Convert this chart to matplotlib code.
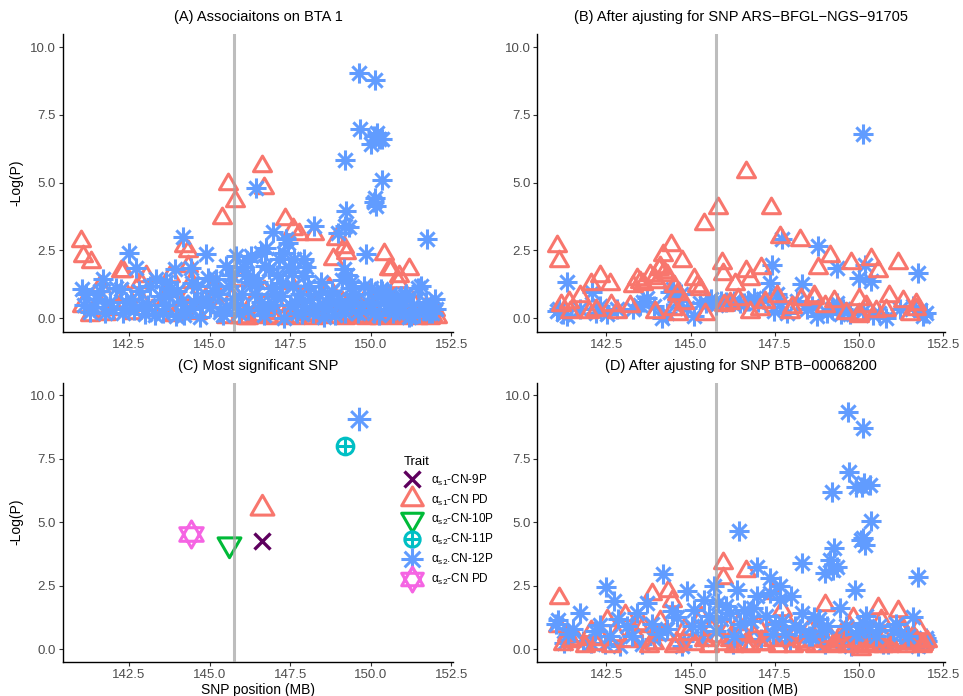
import numpy as np
import matplotlib
matplotlib.use('Agg')
import matplotlib.pyplot as plt
from matplotlib.path import Path
from matplotlib.lines import Line2D
from matplotlib.legend_handler import HandlerTuple

plt.rcParams['font.family'] = ['Liberation Sans', 'DejaVu Sans']
plt.rcParams['mathtext.fontset'] = 'custom'
plt.rcParams['mathtext.rm'] = 'Liberation Sans'
plt.rcParams['mathtext.default'] = 'regular'

lead_snp = 145.75

titles = ['(A) Associaitons on BTA 1',
          '(B) After ajusting for SNP ARS\u2212BFGL\u2212NGS\u221291705',
          '(C) Most significant SNP',
          '(D) After ajusting for SNP BTB\u221200068200']

traits = ['α$_{s1}$-CN-9P', 'α$_{s1}$-CN PD', 'α$_{s2}$-CN-10P',
          'α$_{s2}$-CN-11P', 'α$_{s2}$.CN-12P', 'α$_{s2}$-CN PD']
trait_colors = ['#5E005E', '#F8766D', '#00BA38', '#00BFC4', '#619CFF', '#F564E3']

# panel A: alpha-s1 CN PD (triangles) and alpha-s2 CN-12P (asterisks)
a_pd_x = [141.0, 141.08, 141.31, 145.57, 145.8, 145.39, 146.63, 146.7, 147.35, 147.58,
          147.78, 148.25, 148.92, 148.82, 149.18, 149.23, 150.42, 150.57, 151.19, 150.88,
          144.33, 144.2, 142.31, 143.04, 142.26, 142.83, 144.33, 143.76, 144.43, 141.59,
          150.83, 150.62,
          141.05, 141.3, 141.55, 141.8, 142.05, 142.4, 142.6, 142.9, 143.2, 143.45,
          143.7, 143.9, 144.1, 144.35, 144.6, 144.85, 145.1, 145.3, 145.5, 145.75,
          145.95, 146.13, 146.3, 146.5, 146.7, 146.9, 147.1, 147.3, 147.5, 147.7,
          147.9, 148.1, 148.3, 148.5, 148.7, 148.9, 149.1, 149.3, 149.5, 149.7,
          149.9, 150.1, 150.3, 150.5, 150.7, 150.9, 151.1, 151.3, 151.5, 151.7,
          151.9, 152.0,
          145.9, 146.2, 146.45, 146.8, 147.0, 147.2, 147.45, 147.65, 147.95, 148.2,
          148.45, 148.65, 149.0, 149.2, 149.4, 149.6, 149.85, 150.05, 150.25, 150.45,
          150.65, 150.85, 151.0, 151.25, 151.45, 151.65, 151.85, 152.05]
a_pd_y = [2.85, 2.3, 2.06, 4.95, 4.33, 3.68, 5.62, 4.8, 3.65, 3.28,
          3.1, 3.1, 2.92, 2.18, 2.61, 2.4, 2.36, 1.81, 1.81, 1.56,
          2.48, 2.67, 1.75, 1.56, 1.75, 1.32, 1.93, 1.56, 1.32, 1.19,
          1.32, 1.81,
          0.45, 0.1, 0.6, 0.15, 0.35, 0.9, 0.2, 0.6, 0.3, 0.33,
          1.0, 0.1, 0.5, 0.9, 0.2, 0.7, 1.2, 0.4, 0.05, 0.9,
          1.4, 0.0, 0.6, 0.1, 1.0, 0.2, 0.5, 0.05, 1.3, 0.3,
          0.8, 0.1, 0.5, 0.15, 1.1, 0.3, 0.6, 0.1, 0.4, 0.05,
          0.9, 0.2, 0.5, 0.1, 0.7, 0.3, 0.05, 0.6, 0.2, 0.4,
          0.1, 0.3,
          0.05, 0.0, 0.3, 0.05, 0.0, 0.2, 0.05, 0.0, 0.15, 0.0,
          0.05, 0.3, 0.05, 0.0, 0.15, 0.05, 0.0, 0.1, 0.0, 0.05,
          0.2, 0.0, 0.1, 0.05, 0.0, 0.1, 0.0, 0.05]
a_12p_x = [149.64, 150.13, 149.66, 150.0, 150.1, 150.26, 150.36, 150.19, 149.2, 150.35,
           150.13, 150.16, 150.1, 146.44, 149.23, 149.33, 148.97, 149.2, 148.25, 146.98,
           151.74, 144.17, 142.5, 149.85, 144.9, 147.37, 147.42, 147.32, 147.63, 147.94,
           146.6, 146.71, 147.94, 148.46, 149.18, 149.38, 142.73, 143.91, 144.43, 145.2,
           145.52, 145.82, 146.29, 146.24, 146.5, 141.7, 143.35, 143.66, 142.26, 141.03,
           150.31, 151.55, 150.93,
           141.28, 141.49, 142.0, 142.57, 142.99, 143.45, 143.97, 144.38, 144.9, 145.31,
           145.72, 146.8, 147.32, 147.94, 148.66, 149.38, 150.52, 151.24, 151.86, 152.02,
           141.1, 141.6, 141.9, 142.3, 142.8, 143.1, 143.3, 143.6, 143.8, 144.1,
           144.2, 144.5, 144.6, 144.7, 145.0, 145.1, 145.5, 145.6, 145.9, 146.0,
           146.1, 146.2, 146.4, 146.6, 146.7, 146.9, 147.0, 147.1, 147.2, 147.5,
           147.6, 147.7, 147.8, 148.1, 148.2, 148.4, 148.6, 148.8, 148.9, 149.0,
           149.1, 149.2, 149.5, 149.7, 149.9, 150.0, 150.1, 150.2, 150.4, 150.6,
           150.7, 150.8, 151.0, 151.1, 151.3, 151.5, 151.7, 151.9,
           141.15, 141.4, 141.75, 142.1, 142.4, 142.65, 142.9, 143.15, 143.55, 143.75,
           144.0, 144.25, 144.45, 144.75, 144.95, 145.25, 145.4, 145.65, 145.85, 146.05,
           146.35, 146.55, 146.85, 147.05, 147.25, 147.45, 147.65, 147.85, 148.05, 148.35,
           148.55, 148.75, 149.05, 149.25, 149.35, 149.45, 149.6, 149.8, 150.05, 150.25,
           150.35, 150.55, 150.75, 151.05, 151.2, 151.45, 151.65, 151.8, 152.0, 145.7,
           146.15, 146.75, 147.15, 147.55, 148.0]
a_12p_y = [9.06, 8.78, 7.0, 6.42, 6.74, 6.62, 6.63, 6.85, 5.84, 5.1,
           4.42, 4.14, 4.3, 4.79, 3.96, 3.35, 3.16, 3.4, 3.41, 3.18,
           2.94, 3.01, 2.42, 2.36, 2.36, 2.92, 2.79, 2.42, 2.18, 2.18,
           2.42, 1.93, 1.56, 1.32, 1.81, 1.32, 1.87, 1.81, 1.87, 1.44,
           1.93, 2.3, 2.3, 1.32, 1.32, 1.44, 1.44, 1.32, 1.07, 1.07,
           1.07, 1.19, 0.82,
           0.21, 0.7, 0.33, 0.7, 0.15, 0.82, 0.08, 0.33, 0.7, 0.21,
           0.7, 0.45, 0.0, 0.45, 0.33, 0.45, 0.33, 0.08, 0.45, 0.33,
           0.5, 1.0, 0.6, 0.2, 1.0, 0.5, 0.1, 0.5, 1.1, 0.6,
           0.1, 0.6, 1.2, 0.05, 0.4, 1.0, 0.4, 1.2, 0.2, 0.9,
           1.6, 0.3, 0.9, 0.6, 0.1, 1.1, 0.5, 1.6, 0.8, 0.5,
           1.2, 0.2, 0.9, 0.7, 0.2, 0.9, 0.6, 1.0, 0.1, 0.7,
           1.4, 0.2, 0.9, 0.3, 0.6, 1.1, 0.2, 0.8, 0.6, 0.9,
           0.2, 0.5, 0.3, 0.9, 0.5, 0.2, 0.6, 0.2,
           0.9, 0.4, 0.2, 1.1, 0.6, 0.3, 0.5, 1.2, 0.2, 0.8,
           1.0, 0.3, 1.3, 0.6, 1.5, 0.9, 0.1, 1.6, 0.5, 1.9,
           1.5, 0.3, 1.8, 0.9, 1.3, 1.9, 0.6, 0.15, 1.2, 0.4,
           0.05, 0.7, 0.5, 1.6, 1.1, 0.6, 0.2, 1.2, 0.5, 0.1,
           1.0, 0.7, 0.3, 0.8, 0.05, 1.1, 0.3, 0.2, 0.7, 1.6,
           2.1, 2.6, 2.2, 1.7, 1.9]

# panel B
b_pd_x = [141.02, 141.09, 146.63, 145.82, 145.39, 147.38, 147.65, 148.23, 144.41, 144.17,
          144.73, 144.1, 144.2, 145.92, 145.97, 146.63, 147.08, 148.77, 149.12, 149.76,
          150.35, 150.55, 151.14, 150.01, 150.0, 142.32, 142.62, 142.03, 143.6, 145.09,
          145.29, 146.32, 146.77, 148.67, 150.9, 151.3, 151.69,
          141.14, 141.43, 141.73, 141.99, 142.63, 142.8, 143.2, 143.94, 144.49, 144.63,
          144.8, 145.43, 146.16, 146.77, 147.06, 147.56, 147.96, 148.26, 148.65, 148.98,
          149.26, 149.99, 150.5, 151.69, 143.4, 143.8, 144.0,
          143.3, 143.5, 143.9, 144.05, 144.3, 144.5, 144.6, 145.2, 146.0, 146.4,
          147.2, 148.0, 149.6, 150.2, 150.8, 151.5, 141.4, 142.2]
b_pd_y = [2.67, 2.12, 5.4, 4.05, 3.47, 4.05, 2.98, 2.89, 2.69, 2.32,
          2.12, 1.9, 1.7, 2.05, 1.62, 1.75, 1.85, 1.85, 2.3, 2.05,
          2.18, 1.75, 2.05, 0.7, 0.09, 1.56, 1.25, 1.25, 1.25, 1.44,
          1.07, 1.25, 1.44, 0.82, 0.82, 0.64, 0.52,
          0.5, 0.21, 0.82, 0.21, 0.5, 0.21, 0.46, 0.21, 0.32, 0.14,
          0.56, 0.14, 0.56, 0.21, 0.32, 0.82, 0.21, 0.7, 0.75, 0.46,
          0.64, 0.14, 0.25, 0.32, 1.45, 1.6, 1.35,
          1.2, 1.35, 1.5, 1.8, 1.6, 1.2, 0.9, 1.2, 0.5, 0.7,
          0.6, 0.4, 0.2, 0.45, 0.3, 0.15, 0.6, 0.3]
b_12p_x = [150.11, 147.7, 148.78, 147.4, 149.33, 150.16, 151.74, 150.01, 150.36, 148.29,
           147.35, 141.32, 142.08, 142.3, 144.49, 144.6, 143.7,
           141.04, 141.33, 141.73, 142.52, 142.82, 143.3, 144.15, 144.3, 144.9, 145.1,
           145.29, 145.6, 145.89, 146.28, 146.57, 146.87, 147.16, 147.46, 147.65, 147.85,
           148.15, 148.44, 148.74, 149.04, 149.33, 149.53, 149.73, 150.6, 150.8, 151.2,
           151.6, 151.99, 151.9, 143.5, 144.7,
           141.1, 141.2, 142.2, 143.6, 143.9, 144.4, 144.55, 145.45, 145.75, 146.05,
           146.45, 146.7, 147.0, 147.55, 148.6, 149.2, 149.45, 150.1, 150.4, 151.8]
b_12p_y = [6.79, 2.92, 2.65, 1.97, 1.85, 1.97, 1.67, 1.5, 1.38, 1.25,
           1.31, 1.34, 0.95, 0.45, 1.07, 0.64, 0.76,
           0.26, 0.07, 0.32, 0.14, 0.32, 0.32, 0.0, 0.2, 0.38, 0.07,
           0.56, 0.7, 0.64, 0.64, 0.56, 0.76, 0.7, 0.26, 0.56, 0.2,
           0.64, 0.32, 0.07, 0.2, 0.56, 0.32, 0.14, 0.2, 0.02, 0.32,
           0.45, 0.2, 0.07, 0.5, 0.9,
           0.35, 0.15, 0.2, 0.6, 0.45, 0.95, 0.8, 0.55, 0.5, 0.6,
           0.55, 0.65, 0.6, 0.9, 0.45, 0.35, 0.15, 0.25, 0.1, 0.3]

# panel C: most significant SNP of each trait
c_x = [146.63, 146.63, 145.59, 149.2, 149.64, 144.41]
c_y = [4.26, 5.55, 4.13, 8.0, 9.05, 4.54]

# panel D
d_pd_x = [141.09, 145.95, 145.97, 146.63, 144.34, 143.85, 144.44, 147.45, 147.7, 148.98,
          149.82, 150.55, 151.14, 151.74, 143.06, 142.52, 141.34, 142.03, 142.8, 143.3,
          143.9, 144.6, 145.4, 145.3, 146.18, 146.87, 147.45, 148.13, 148.6, 149.1,
          149.5, 149.9, 150.25, 150.75, 151.1, 151.5, 151.7, 150.64,
          141.2, 141.6, 142.2, 143.6, 144.1, 144.9, 145.6, 146.0, 146.4, 146.6,
          147.0, 147.2, 147.9, 148.4, 148.8, 149.3, 149.7, 150.0, 150.1, 150.2,
          150.4, 150.9, 151.3, 151.9,
          141.05, 141.45, 141.85, 142.35, 142.65, 143.15, 143.45, 143.75, 144.25, 144.5,
          144.8, 145.1, 145.55, 145.8, 146.1, 146.3, 146.55, 146.75, 147.1, 147.35,
          147.6, 147.8, 148.05, 148.3, 148.5, 148.7, 149.0, 149.2, 149.45, 149.65,
          149.8, 150.0, 150.05, 150.15, 150.3, 150.5, 150.7, 150.95, 151.2, 151.4,
          151.6, 151.85, 152.0]
d_pd_y = [2.0, 3.41, 2.8, 3.06, 2.28, 2.15, 1.89, 2.22, 1.54, 1.74,
          1.22, 1.61, 1.48, 0.83, 1.35, 1.15, 0.57, 0.7, 0.57, 0.7,
          0.24, 0.24, 0.37, 1.28, 0.37, 0.5, 0.37, 0.63, 0.37, 0.5,
          0.37, 0.3, 0.37, 0.43, 0.3, 0.24, 0.37, 1.15,
          0.2, 0.4, 0.2, 0.9, 1.1, 0.6, 0.8, 0.2, 1.0, 0.2,
          0.9, 0.2, 1.0, 0.2, 0.8, 0.2, 0.9, 0.1, 0.5, 0.2,
          0.3, 0.1, 0.8, 0.2,
          0.9, 0.3, 0.1, 0.4, 0.1, 0.3, 1.0, 0.1, 0.6, 0.1,
          0.8, 0.2, 0.1, 0.5, 0.8, 0.1, 0.6, 0.1, 0.2, 0.7,
          0.1, 0.4, 0.1, 0.3, 0.8, 0.1, 0.3, 0.1, 0.6, 0.1,
          0.7, 0.3, 0.0, 0.6, 0.1, 0.4, 0.1, 0.2, 0.8, 0.1,
          0.5, 0.1, 0.3]
d_12p_x = [149.67, 150.11, 149.7, 149.92, 150.14, 150.33, 150.09, 149.2, 150.36, 150.11,
           150.16, 150.06, 146.44, 149.25, 149.33, 148.98, 149.23, 149.13, 148.29, 146.98,
           151.74, 149.87, 144.18, 142.5, 142.72, 144.9, 145.7, 146.37, 147.35, 147.65,
           147.35, 146.96, 147.65, 147.99, 149.42, 151.59, 141.73, 142.3, 141.05, 141.25,
           142.9, 142.03, 143.4, 143.7, 144.6, 145.1, 145.4, 145.8, 146.18, 146.57,
           148.29, 148.67, 149.06, 150.11, 150.3, 150.99, 151.38, 151.88, 151.98,
           141.5, 142.6, 143.1, 143.9, 144.3, 144.8, 145.3, 145.9, 146.3, 146.8,
           147.1, 147.5, 147.8, 148.1, 148.5, 148.9, 149.5, 149.9, 150.5, 150.7,
           151.2, 151.6,
           141.0, 141.35, 141.8, 142.15, 142.45, 142.85, 143.25, 143.55, 143.85, 144.05,
           144.45, 144.75, 145.05, 145.35, 145.55, 145.75, 146.05, 146.25, 146.45, 146.65,
           146.85, 147.25, 147.45, 147.7, 147.95, 148.25, 148.6, 148.8, 149.0, 149.35,
           149.6, 149.75, 150.0, 150.2, 150.4, 150.6, 150.85, 151.1, 151.45, 151.75,
           152.0]
d_12p_y = [9.35, 8.7, 6.99, 6.4, 6.55, 6.48, 6.4, 6.2, 5.03, 4.37,
           4.1, 4.3, 4.67, 3.98, 3.25, 2.99, 3.1, 3.5, 3.41, 3.25,
           2.83, 2.33, 2.95, 2.43, 1.91, 2.28, 2.5, 2.33, 2.8, 2.48,
           2.22, 2.09, 1.96, 2.09, 1.61, 1.28, 1.41, 0.96, 1.15, 0.24,
           0.1, 0.24, 1.41, 1.81, 1.28, 1.54, 1.94, 1.81, 1.41, 1.54,
           1.41, 1.28, 0.89, 1.02, 0.76, 0.76, 0.37, 0.24, 0.43,
           0.8, 0.5, 0.9, 0.4, 0.8, 0.3, 0.9, 1.2, 0.5, 1.1,
           0.4, 1.0, 0.6, 0.9, 0.5, 0.7, 0.3, 0.6, 0.5, 0.2,
           0.6, 0.3,
           1.0, 0.6, 0.3, 0.7, 0.2, 1.2, 0.5, 0.2, 1.0, 0.6,
           1.5, 0.1, 0.9, 0.4, 1.3, 0.7, 1.7, 0.2, 1.0, 0.4,
           1.6, 1.3, 0.6, 1.1, 0.3, 0.8, 0.5, 1.2, 0.2, 0.4,
           0.9, 0.1, 0.7, 1.3, 0.4, 0.9, 0.2, 1.0, 0.5, 0.1,
           0.3]

tri_up = Path([(0, 1), (-0.866, -0.5), (0.866, -0.5), (0, 1)],
              [Path.MOVETO, Path.LINETO, Path.LINETO, Path.CLOSEPOLY])
tri_down = Path([(0, -1), (-0.866, 0.5), (0.866, 0.5), (0, -1)],
                [Path.MOVETO, Path.LINETO, Path.LINETO, Path.CLOSEPOLY])
hexagram = Path([(0, 1), (-0.866, -0.5), (0.866, -0.5), (0, 1),
                 (0, -1), (-0.866, 0.5), (0.866, 0.5), (0, -1)],
                [Path.MOVETO, Path.LINETO, Path.LINETO, Path.CLOSEPOLY] * 2)
# ggplot shape 8: a plus and a cross on top of each other
asterisk = Path([(-1, 0), (1, 0), (0, -1), (0, 1),
                 (-0.707, -0.707), (0.707, 0.707), (-0.707, 0.707), (0.707, -0.707)],
                [Path.MOVETO, Path.LINETO] * 4)


def tri(ax, x, y, ms=15, mew=2.2):
    ax.plot(x, y, ls='none', marker=tri_up, ms=ms, mfc='none', mec=trait_colors[1], mew=mew)


def ast(ax, x, y, ms=14.5, mew=2.2):
    ax.plot(x, y, ls='none', marker=asterisk, ms=ms, mfc='none', mec=trait_colors[4], mew=mew)


def style(ax, title):
    ax.set_xlim(140.45, 152.55)
    ax.set_ylim(-0.5, 10.5)
    ax.set_xticks([142.5, 145.0, 147.5, 150.0, 152.5])
    ax.set_yticks([0.0, 2.5, 5.0, 7.5, 10.0])
    ax.set_xticklabels(['142.5', '145.0', '147.5', '150.0', '152.5'])
    ax.set_yticklabels(['0.0', '2.5', '5.0', '7.5', '10.0'])
    for s in ['top', 'right']:
        ax.spines[s].set_visible(False)
    for s in ['left', 'bottom']:
        ax.spines[s].set_linewidth(1.0)
    ax.tick_params(length=3, width=0.8, color='#333333', labelcolor='#4D4D4D',
                   labelsize=9.5, pad=2)
    ax.set_title(title, fontsize=10.5, pad=9)
    ax.axvline(lead_snp, color='#A2A2A2', alpha=0.7, lw=2.2, zorder=5)


fig = plt.figure(figsize=(9.63, 6.96), dpi=100)
ax_a = fig.add_axes([0.0654, 0.5234, 0.405, 0.4282])
ax_b = fig.add_axes([0.558, 0.5234, 0.4234, 0.4282])
ax_c = fig.add_axes([0.0654, 0.0493, 0.405, 0.4009])
ax_d = fig.add_axes([0.558, 0.0493, 0.4234, 0.4009])

tri(ax_a, a_pd_x, a_pd_y)
ast(ax_a, a_12p_x, a_12p_y)
ast(ax_b, b_12p_x, b_12p_y)
tri(ax_b, b_pd_x, b_pd_y)

# D: low asterisks sit under the triangles, the rest on top
d_x = np.array(d_12p_x)
d_y = np.array(d_12p_y)
low = d_y < 0.45
ast(ax_d, d_x[low], d_y[low])
tri(ax_d, d_pd_x, d_pd_y)
ast(ax_d, d_x[~low], d_y[~low])

# panel C, one marker per trait
ax_c.plot(c_x[0], c_y[0], ls='none', marker='x', ms=12, mew=2.4, color=trait_colors[0])
ax_c.plot(c_x[1], c_y[1], ls='none', marker=tri_up, ms=19, mfc='none', mec=trait_colors[1], mew=2.2)
ax_c.plot(c_x[2], c_y[2], ls='none', marker=tri_down, ms=19, mfc='none', mec=trait_colors[2], mew=2.2)
ax_c.plot(c_x[3], c_y[3], ls='none', marker='o', ms=12, mfc='none', mec=trait_colors[3], mew=2.2)
ax_c.plot(c_x[3], c_y[3], ls='none', marker='+', ms=12, mew=2.2, color=trait_colors[3])
ax_c.plot(c_x[4], c_y[4], ls='none', marker=asterisk, ms=17, mfc='none', mew=2.2, mec=trait_colors[4])
ax_c.plot(c_x[5], c_y[5], ls='none', marker=hexagram, ms=19.5, mfc='none', mec=trait_colors[5], mew=2.2)

for ax, t in zip([ax_a, ax_b, ax_c, ax_d], titles):
    style(ax, t)

ax_a.set_ylabel('-Log(P)', fontsize=10, labelpad=5)
ax_c.set_ylabel('-Log(P)', fontsize=10, labelpad=5)
ax_c.set_xlabel('SNP position (MB)', fontsize=10, labelpad=2)
ax_d.set_xlabel('SNP position (MB)', fontsize=10, labelpad=2)

handles = [
    Line2D([], [], ls='none', marker='x', ms=11.5, mew=2.4, color=trait_colors[0]),
    Line2D([], [], ls='none', marker=tri_up, ms=18, mfc='none', mec=trait_colors[1], mew=2.2),
    Line2D([], [], ls='none', marker=tri_down, ms=18, mfc='none', mec=trait_colors[2], mew=2.2),
    (Line2D([], [], ls='none', marker='o', ms=11, mfc='none', mec=trait_colors[3], mew=2.2),
     Line2D([], [], ls='none', marker='+', ms=11, mew=2.2, color=trait_colors[3])),
    Line2D([], [], ls='none', marker=asterisk, ms=16, mfc='none', mew=2.2, mec=trait_colors[4]),
    Line2D([], [], ls='none', marker=hexagram, ms=18, mfc='none', mec=trait_colors[5], mew=2.2),
]
fig.legend(handles, traits, title='Trait', loc='upper left', bbox_to_anchor=(0.419, 0.345),
           frameon=False, borderpad=0, borderaxespad=0, fontsize=8.5, title_fontsize=9.5,
           alignment='left', handlelength=1.4, handletextpad=0.95, labelspacing=0.4,
           handler_map={tuple: HandlerTuple(ndivide=1)})

fig.savefig('out.png', dpi=100)
